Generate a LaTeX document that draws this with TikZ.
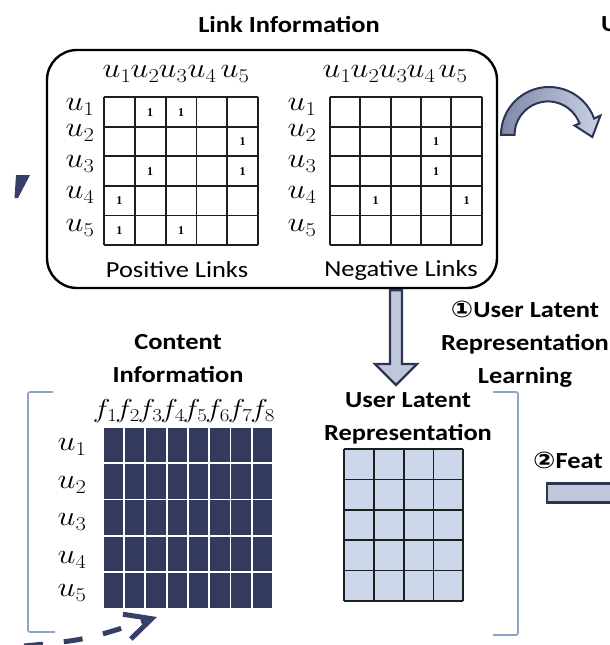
\RequirePackage{fix-cm}
\documentclass[tikz,border=0pt]{standalone}
\usepackage[no-math]{fontspec}
\setmainfont{Carlito}
\newfontfamily\circfont{DejaVu Sans}
\newfontfamily\serifnum{Liberation Serif}
\usepackage{graphicx}
\usetikzlibrary{arrows.meta,calc}

\definecolor{navy}{HTML}{333A5E}
\definecolor{latent}{HTML}{CDD7EA}
\definecolor{arrowfill}{HTML}{C0C7DA}
\definecolor{arrowline}{HTML}{2D3553}
\definecolor{bracketblue}{HTML}{8EA3C6}
\definecolor{dashblue}{HTML}{34406A}
\definecolor{curveleft}{HTML}{7F88A5}
\definecolor{curveright}{HTML}{CAD2E7}
\definecolor{gridink}{HTML}{1E1E1E}

% widen text a little, as in the drawing
\newcommand\sx[1]{\scalebox{1.15}[1]{#1}}

\begin{document}
\begin{tikzpicture}[x=1pt,y=-1pt,
  title/.style={font=\fontsize{23}{33}\selectfont\bfseries, inner sep=0pt, align=center},
  plain/.style={font=\fontsize{23}{33}\selectfont, inner sep=0pt},
  ulabel/.style={font=\fontsize{28}{30}\selectfont, inner sep=0pt},
  flabel/.style={font=\fontsize{26}{30}\selectfont, inner sep=0pt},
  one/.style={font=\serifnum\bfseries\fontsize{12}{12}\selectfont, inner sep=0pt},
  gridline/.style={line width=1.8pt, draw=gridink},
  framebox/.style={draw, line width=2.4pt, rounded corners=30pt},
  blockarrow/.style={fill=arrowfill, draw=arrowline, line width=2.2pt, line join=miter},
  bracketline/.style={draw=bracketblue, line width=1.6pt, rounded corners=2pt},
  dashline/.style={draw=dashblue, line width=5pt, dash pattern=on 19pt off 21pt}
]
\useasboundingbox (0,0) rectangle (610,645);
\fill[white] (0,0) rectangle (610,645);

% ---------- link information ----------
\node[title] (linktitle) at (289,24) {\sx{Link Information}};
\node[title, anchor=west] (toplabel) at (601,24) {\sx{U}};
\node[framebox, minimum width=450pt, minimum height=238pt] (linkbox) at (272,169) {};

% positive links matrix
\foreach \i in {0,...,5} {
  \draw[gridline] ({104+30.8*\i},97.3) -- ({104+30.8*\i},245);
  \draw[gridline] (104,{97.3+29.54*\i}) -- (258,{97.3+29.54*\i});
}
\foreach \r/\c in {1/2,1/3,2/5,3/2,3/5,4/1,5/1,5/3}
  \node[one] (p\r\c) at ({104+30.8*(\c-0.5)},{97.3+29.54*(\r-0.5)}) {1};
\foreach \k/\x in {1/117,2/145,3/173,4/202,5/235}
  \node[ulabel] (pc\k) at (\x,74) {\sx{$u_{\k}$}};
\foreach \k/\y in {1/107,2/133,3/164,4/195,5/228}
  \node[ulabel] (pr\k) at (80,\y) {\sx{$u_{\k}$}};
\node[plain] (poslabel) at (177,270) {\sx{Positive Links}};

% negative links matrix
\foreach \i in {0,...,5} {
  \draw[gridline] ({330+30.34*\i},97.3) -- ({330+30.34*\i},245);
  \draw[gridline] (330,{97.3+29.54*\i}) -- (481.7,{97.3+29.54*\i});
}
\foreach \r/\c in {2/4,3/4,4/2,4/5}
  \node[one] (n\r\c) at ({330+30.34*(\c-0.5)},{97.3+29.54*(\r-0.5)}) {1};
\foreach \k/\x in {1/337,2/365,3/393,4/421,5/453}
  \node[ulabel] (nc\k) at (\x,74) {\sx{$u_{\k}$}};
\foreach \k/\y in {1/107,2/133,3/164,4/195,5/228}
  \node[ulabel] (nr\k) at (302,\y) {\sx{$u_{\k}$}};
\node[plain] (neglabel) at (401,270) {\sx{Negative Links}};

% curved arrow leaving the link box
\draw[left color=curveleft, right color=curveright, draw=arrowline, line width=2pt, line join=miter]
  (501,135) arc[start angle=180, end angle=340, radius=48]
  -- (600.5,115.5) -- (592.3,137) -- (574.5,125.5) -- (579.5,123.5)
  arc[start angle=340, end angle=180, radius=33.5] -- cycle;

% step 1 arrow
\coordinate (downtip) at (396,385);
\path (linkbox.south -| downtip) coordinate (downtop);
\draw[blockarrow] ($(downtop)+(-6,1)$) -- ($(downtip)+(-6,-21)$) -- ($(downtip)+(-21,-21)$)
  -- (downtip) -- ($(downtip)+(21,-21)$) -- ($(downtip)+(6,-21)$) -- ($(downtop)+(6,1)$) -- cycle;
\node[title] (steplabel) at (525,344)
  {\sx{\begin{tabular}{@{}c@{}}{\circfont ①}User Latent\\Representation\\Learning\end{tabular}}};

% ---------- content information ----------
\node[title] (contenttitle) at (178,359.5)
  {\sx{\begin{tabular}{@{}c@{}}Content\\Information\end{tabular}}};
\foreach \r in {0,...,4}
  \foreach \c in {0,...,7}
    \fill[navy] ({102.7+21.3*\c+0.9},{426.7+36.4*\r+0.9}) rectangle ({102.7+21.3*(\c+1)-0.9},{426.7+36.4*(\r+1)-0.9});
\foreach \k in {1,...,8}
  \node[flabel] (f\k) at ({105.25+22.5*(\k-1)},411) {\sx{$f_{\k}$}};
\foreach \k/\y in {1/447,2/485,3/522,4/560,5/593}
  \node[ulabel] (cr\k) at (72,\y) {\sx{$u_{\k}$}};

% ---------- user latent representation ----------
\node[title] (latenttitle) at (408,417)
  {\sx{\begin{tabular}{@{}c@{}}User Latent\\Representation\end{tabular}}};
\fill[latent] (344.3,449.3) rectangle (463.3,600.7);
\foreach \i in {0,...,4}
  \draw[gridline] ({344.3+29.75*\i},449.3) -- ({344.3+29.75*\i},600.7);
\foreach \j in {0,...,5}
  \draw[gridline] (344.3,{449.3+30.28*\j}) -- (463.3,{449.3+30.28*\j});

% brackets around the two inputs
\draw[bracketline] (53,392) -- (28,392) -- (28,632) -- (55,632);
\draw[bracketline] (493,392) -- (518,392) -- (518,635) -- (493,635);

% step 2
\node[title, anchor=west] (featlabel) at (533,460) {\sx{{\circfont ②}Feat}};
\draw[blockarrow] (547,483.5) rectangle (625,502.5);

% dashed arrows
\fill[dashblue] (16,175) -- (30,175) -- (18,198) -- (14.5,198) -- cycle;
\coordinate (dashstart) at (24,646);
\coordinate (dashend) at (157,617);
\draw[dashline, -{Straight Barb[length=26pt,width=26pt]}] (dashstart) .. controls (85,640) .. (dashend);
\end{tikzpicture}
\end{document}
